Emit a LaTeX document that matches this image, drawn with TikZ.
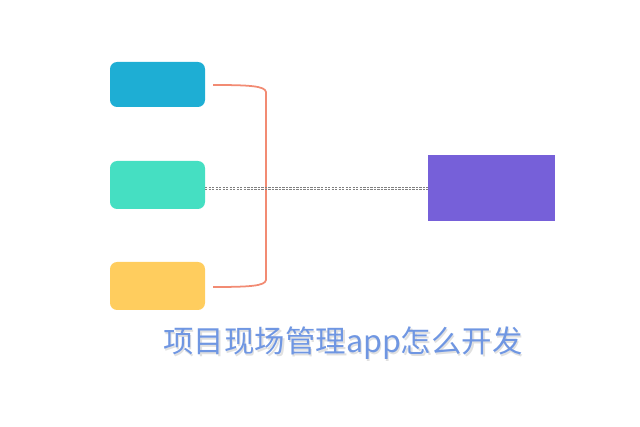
\documentclass[tikz,border=0pt]{standalone}
\usepackage{fontspec}
\newfontfamily\cjk{Noto Sans CJK SC}
\definecolor{cblue}{HTML}{1EAED4}
\definecolor{cgreen}{HTML}{45DFC2}
\definecolor{cyellow}{HTML}{FFCD5E}
\definecolor{cpurple}{HTML}{7660D9}
\definecolor{cline}{HTML}{F28B73}
\definecolor{ctext}{HTML}{6F96E2}
\begin{document}
\begin{tikzpicture}
      [x=0.03cm,y=-0.03cm,
      item/.style={rounded corners=6pt,inner sep=0pt},
      link/.style={cline,line width=1.5pt},
      title/.style={font=\cjk\fontsize{26pt}{29pt}\selectfont}]
      \useasboundingbox (0,0) rectangle (640,427);
      \fill[item,cblue] (110,62) rectangle (205,107);
      \fill[item,cgreen] (110,161) rectangle (205,209);
      \fill[item,cyellow] (110,262) rectangle (205,310);
      \node[fill=cpurple,minimum width=127*0.03cm,minimum height=66*0.03cm,inner sep=0pt] (goal) at (491.5,188) {};
      \coordinate (src) at (205,188);
      \coordinate (b1) at (213,85);
      \coordinate (b2) at (213,287);
      \draw[link] (b1) .. controls (250,85) and (265,86) .. (266,92) -- (266,280) .. controls (265,286) and (250,287) .. (b2);
      \draw[gray,thin,dash pattern=on 2pt off 1pt] ([yshift=0.03cm]src) -- ([yshift=0.03cm]goal.west);
      \draw[gray,thin,dash pattern=on 2pt off 1pt] ([yshift=-0.03cm]src) -- ([yshift=-0.03cm]goal.west);
      \node[title,text=black!12] at (344.5,345.5) {项目现场管理app怎么开发};
      \node[title,text=ctext] (name) at (343,343) {项目现场管理app怎么开发};
    \end{tikzpicture}
\end{document}
